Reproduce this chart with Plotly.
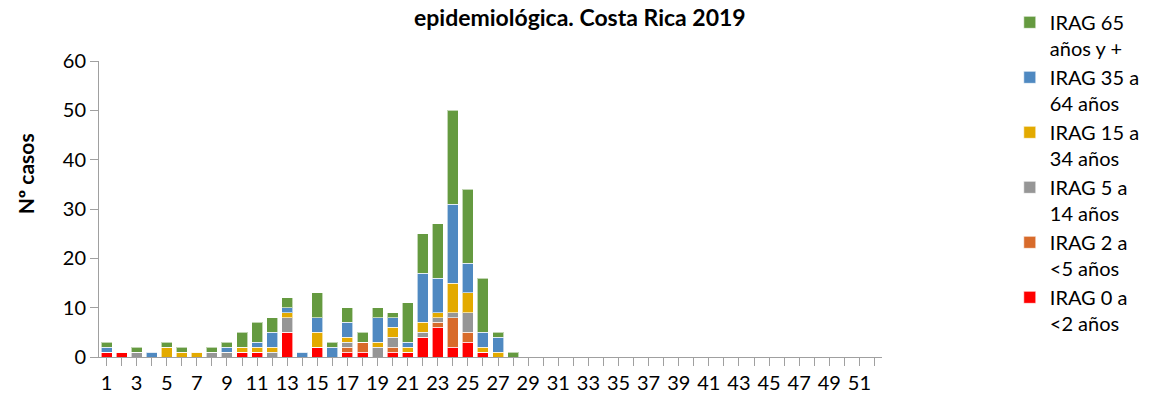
import plotly.graph_objects as go

weeks = list(range(1, 53))
tick_labels = [str(w) if w % 2 == 1 else "" for w in weeks]

def pad(vals):
    return vals + [0] * (52 - len(vals))

# Weeks 1..28 (rest 0)
irag_0_2 = pad([1, 1, 0, 0, 0, 0, 0, 0, 0, 1, 1, 0, 5, 0, 2, 0, 1, 1, 0, 1, 1, 4, 6, 2, 3, 1, 0, 0])
irag_2_5 = pad([0, 0, 0, 0, 0, 0, 0, 0, 0, 0, 0, 0, 0, 0, 0, 0, 1, 2, 0, 1, 0, 0, 1, 6, 2, 0, 0, 0])
irag_5_14 = pad([0, 0, 1, 0, 0, 0, 0, 1, 1, 0, 0, 1, 3, 0, 0, 0, 1, 0, 2, 2, 0, 1, 1, 1, 4, 0, 0, 0])
irag_15_34 = pad([0, 0, 0, 0, 2, 1, 1, 0, 0, 1, 1, 1, 1, 0, 3, 0, 1, 0, 1, 2, 1, 2, 1, 6, 4, 1, 1, 0])
irag_35_64 = pad([1, 0, 0, 1, 0, 0, 0, 0, 1, 0, 1, 3, 1, 1, 3, 2, 3, 0, 5, 2, 1, 10, 7, 16, 6, 3, 3, 0])
irag_65 = pad([1, 0, 1, 0, 1, 1, 0, 1, 1, 3, 4, 3, 2, 0, 5, 1, 3, 2, 2, 1, 8, 8, 11, 19, 15, 11, 1, 1])

series = [
    ("IRAG 0 a<br><2 años", irag_0_2, "#FF0000"),
    ("IRAG 2 a<br><5 años", irag_2_5, "#D86B2B"),
    ("IRAG 5 a<br>14 años", irag_5_14, "#969696"),
    ("IRAG 15 a<br>34 años", irag_15_34, "#E3AA00"),
    ("IRAG 35 a<br>64 años", irag_35_64, "#4F89C1"),
    ("IRAG 65<br>años y +", irag_65, "#659A40"),
]

FONT = "Lato, Open Sans, sans-serif"

fig = go.Figure()
for name, vals, color in series:
    fig.add_trace(go.Bar(
        x=weeks, y=vals, name=name,
        marker=dict(color=color, line=dict(color="rgba(255,255,255,0.6)", width=1)),
    ))

fig.update_layout(
    width=1162, height=403,
    barmode="stack", bargap=0.27,
    plot_bgcolor="white", paper_bgcolor="white",
    margin=dict(l=99, r=280, t=61, b=46, autoexpand=False),
    font=dict(family=FONT, size=20, color="black"),
    title=dict(text="<b>epidemiológica. Costa Rica 2019</b>",
               xref="container", x=0.499, xanchor="center",
               yref="container", y=0.956, yanchor="middle",
               font=dict(family=FONT, size=23, color="black")),
    xaxis=dict(
        tickmode="array", tickvals=weeks, ticktext=tick_labels,
        range=[0.5, 52.5], tickson="boundaries",
        ticks="outside", ticklen=8, tickcolor="#A0A0A0",
        showline=True, linecolor="#A0A0A0", linewidth=1,
        showgrid=False, tickangle=0,
        tickfont=dict(family=FONT, size=20),
    ),
    yaxis=dict(
        range=[0, 60], dtick=10, ticks="outside", ticklen=8, tickcolor="#A0A0A0",
        showline=True, linecolor="#A0A0A0", linewidth=1, showgrid=False,
        zeroline=False,
        tickfont=dict(family=FONT, size=20),
    ),
    annotations=[dict(
        text="<b>Nº casos</b>", textangle=-90,
        xref="paper", x=-0.0945, xanchor="center",
        yref="paper", y=0.617, yanchor="middle",
        showarrow=False, font=dict(family=FONT, size=21, color="black"),
    )],
    legend=dict(
        xref="container", x=0.869, xanchor="left",
        yref="container", y=0.993, yanchor="top",
        traceorder="reversed", valign="top",
        font=dict(family=FONT, size=20, color="black"),
        itemwidth=30, maxheight=1.0,
    ),
)

fig.write_html("out.html", config={"displayModeBar": False},
               post_script="document.body.style.margin='0';")
